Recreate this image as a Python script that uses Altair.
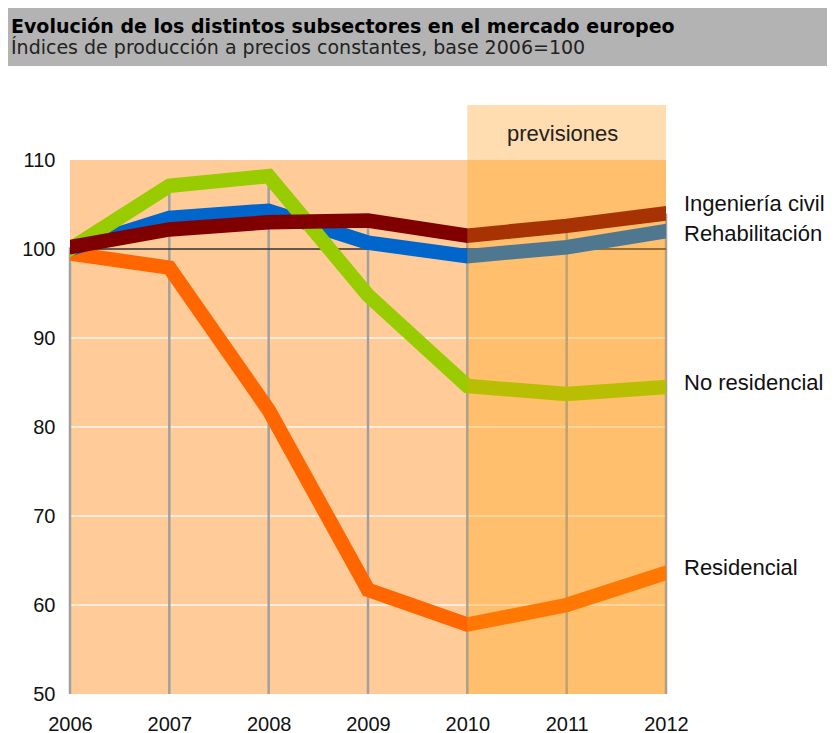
import altair as alt
import pandas as pd

# ---- data ----
years = [2006, 2007, 2008, 2009, 2010, 2011, 2012]
residencial = [99.5, 97.9, 81.9, 61.7, 57.8, 60.0, 63.6]
no_residencial = [100.0, 107.1, 108.2, 94.8, 84.6, 83.7, 84.5]
rehabilitacion = [100.0, 103.5, 104.3, 100.7, 99.2, 100.2, 102.0]
ingenieria_civil = [100.2, 102.2, 103.0, 103.2, 101.5, 102.6, 104.0]

series_names = ["Residencial", "Rehabilitación", "No residencial", "Ingeniería civil"]
series_values = [residencial, rehabilitacion, no_residencial, ingenieria_civil]
series_colors = ["#FF6600", "#0066CC", "#99CC00", "#800000"]
label_values = [64.2, 101.7, 84.9, 105.1]

y_ticks = [50, 60, 70, 80, 90, 100, 110]
grid_values = [60, 70, 80, 90]
forecast_start, forecast_end = 2010, 2012

title_text = "Evolución de los distintos subsectores en el mercado europeo"
subtitle_text = "Índices de producción a precios constantes, base 2006=100"

FONT = "Liberation Sans"

xs = alt.Scale(domain=[2006, 2012], nice=False, zero=False)
ys = alt.Scale(domain=[50, 110], nice=False, zero=False)

# background panel with axes
bg_df = pd.DataFrame({"x": [years[0]], "x2": [years[-1]], "y": [50], "y2": [110]})
bg = alt.Chart(bg_df).mark_rect(color="#FFCC99").encode(
    x=alt.X("x:Q", scale=xs, title=None,
            axis=alt.Axis(values=years, format="d", labelFont=FONT, labelFontSize=20,
                          labelColor="#111", domain=False, ticks=False, grid=False,
                          labelPadding=20, labelFlush=False)),
    x2="x2:Q",
    y=alt.Y("y:Q", scale=ys, title=None,
            axis=alt.Axis(values=y_ticks, labelFont=FONT, labelFontSize=20,
                          labelColor="#111", domain=False, ticks=False, grid=False,
                          labelPadding=15)),
    y2="y2:Q",
)

header_df = pd.DataFrame({"x": [forecast_start], "x2": [forecast_end]})
header = alt.Chart(header_df).mark_rect(color="#FFDDB0").encode(
    x=alt.X("x:Q", scale=xs), x2="x2:Q",
    y=alt.value(-55), y2=alt.value(0),
)
header_text = alt.Chart(pd.DataFrame({"x": [(forecast_start + forecast_end) / 2], "t": ["previsiones"]})).mark_text(
    font=FONT, fontSize=22, color="#222", baseline="middle", align="center", dx=-4
).encode(x=alt.X("x:Q", scale=xs), y=alt.value(-26), text="t:N")

grid_df = pd.DataFrame({"y": grid_values, "x": years[0], "x2": years[-1]})
hgrid = alt.Chart(grid_df).mark_rule(color="white", strokeWidth=1.5, opacity=0.85).encode(
    x=alt.X("x:Q", scale=xs), x2="x2:Q", y=alt.Y("y:Q", scale=ys)
)

tops = [max(v[i] for v in series_values) for i in range(len(years))]
vgrid_df = pd.DataFrame({"x": years, "y": 50, "y2": tops})
vgrid = alt.Chart(vgrid_df).mark_rule(color="#A0A0A0", strokeWidth=2.5).encode(
    x=alt.X("x:Q", scale=xs), y=alt.Y("y:Q", scale=ys), y2="y2:Q"
)

base_df = pd.DataFrame({"x": [years[0]], "x2": [years[-1]], "y": [100]})
base_line = alt.Chart(base_df).mark_rule(color="#333333", strokeWidth=1.5).encode(
    x=alt.X("x:Q", scale=xs), x2="x2:Q", y=alt.Y("y:Q", scale=ys)
)

line_layers = []
for name, vals, col in zip(series_names, series_values, series_colors):
    df = pd.DataFrame({"year": years, "value": vals, "serie": name})
    line_layers.append(
        alt.Chart(df).mark_line(color=col, strokeWidth=14.5, strokeCap="square",
                                strokeJoin="miter", clip=True).encode(
            x=alt.X("year:Q", scale=xs), y=alt.Y("value:Q", scale=ys), order="year:Q"
        )
    )

overlay_df = pd.DataFrame({"x": [forecast_start], "x2": [forecast_end], "y": [50], "y2": [110]})
overlay = alt.Chart(overlay_df).mark_rect(color="#FFA10A", opacity=0.31).encode(
    x=alt.X("x:Q", scale=xs), x2="x2:Q", y=alt.Y("y:Q", scale=ys), y2="y2:Q"
)

lab_df = pd.DataFrame({"serie": series_names, "y": label_values})
labels = alt.Chart(lab_df).mark_text(font=FONT, fontSize=22, color="#111", align="left",
                                     baseline="middle").encode(
    x=alt.value(614), y=alt.Y("y:Q", scale=ys), text="serie:N"
)

banner = alt.Chart(pd.DataFrame({"a": [0]})).mark_rect(color="#B3B3B3").encode(
    x=alt.value(-62), x2=alt.value(760), y=alt.value(-152), y2=alt.value(-94)
)
title = alt.Chart(pd.DataFrame({"t": [title_text]})).mark_text(
    font="DejaVu Sans", fontSize=19, fontWeight="bold", color="#000", align="left",
    baseline="alphabetic"
).encode(x=alt.value(-59), y=alt.value(-127), text="t:N")
subtitle = alt.Chart(pd.DataFrame({"t": [subtitle_text]})).mark_text(
    font="DejaVu Sans", fontSize=19, color="#222", align="left", baseline="alphabetic"
).encode(x=alt.value(-59), y=alt.value(-106), text="t:N")

chart = alt.layer(
    bg, header, header_text, hgrid, vgrid, base_line, *line_layers, overlay, labels,
    banner, title, subtitle
).properties(
    width=596, height=534,
    autosize=alt.AutoSizeParams(type="none"),
    padding={"left": 62, "top": 152, "right": 161, "bottom": 45},
).configure_view(stroke=None)

chart.save("out.html", embed_options={"renderer": "svg", "actions": False})
